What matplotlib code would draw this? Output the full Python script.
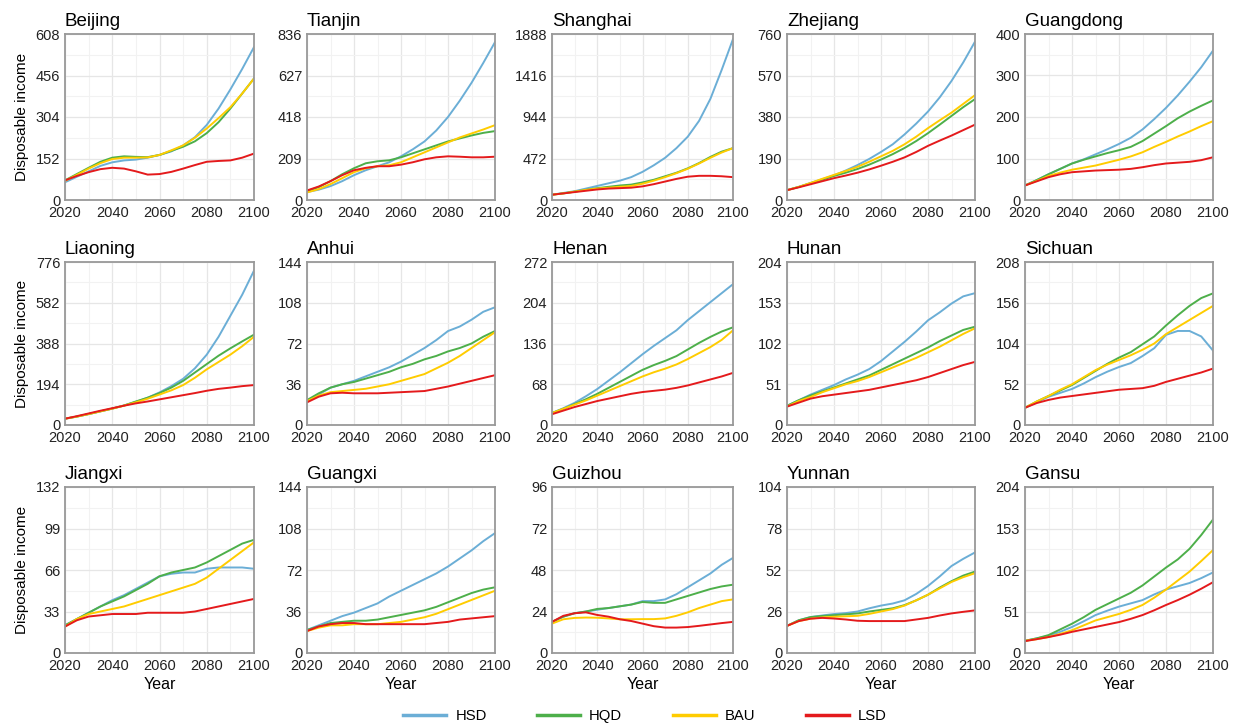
import matplotlib
matplotlib.use("Agg")
import matplotlib.pyplot as plt
import numpy as np

plt.rcParams['font.family'] = ['Liberation Sans', 'DejaVu Sans']

years = list(range(2020, 2101, 5))
scenarios = ["HSD", "HQD", "BAU", "LSD"]
colors = {"HSD": "#6baed6", "HQD": "#4daf4a", "BAU": "#ffcc00", "LSD": "#e41a1c"}

provinces = ["Beijing", "Tianjin", "Shanghai", "Zhejiang", "Guangdong",
             "Liaoning", "Anhui", "Henan", "Hunan", "Sichuan",
             "Jiangxi", "Guangxi", "Guizhou", "Yunnan", "Gansu"]
ymax = [608, 836, 1888, 760, 400, 776, 144, 272, 204, 208, 132, 144, 96, 104, 204]

beijing = {
    "HSD": [65, 85, 105, 125, 138, 145, 148, 155, 165, 178, 200, 230, 275, 335, 405, 480, 560],
    "HQD": [72, 95, 118, 140, 155, 160, 158, 157, 165, 180, 195, 215, 245, 285, 335, 390, 445],
    "BAU": [70, 92, 115, 135, 150, 155, 155, 156, 165, 182, 200, 228, 262, 300, 340, 390, 445],
    "LSD": [72, 88, 102, 113, 118, 115, 105, 93, 95, 103, 115, 128, 140, 143, 145, 155, 170],
}
tianjin = {
    "HSD": [40, 52, 70, 95, 125, 150, 170, 190, 220, 255, 295, 350, 418, 500, 590, 690, 795],
    "HQD": [45, 65, 95, 130, 160, 185, 195, 200, 215, 235, 255, 275, 295, 310, 325, 338, 347],
    "BAU": [38, 55, 80, 110, 140, 160, 170, 175, 190, 215, 240, 265, 290, 315, 335, 355, 377],
    "LSD": [48, 68, 95, 125, 150, 162, 170, 170, 178, 190, 205, 215, 220, 218, 215, 215, 218],
}
shanghai = {
    "HSD": [60, 80, 100, 130, 160, 190, 220, 260, 320, 395, 480, 590, 720, 900, 1150, 1480, 1830],
    "HQD": [60, 75, 95, 115, 135, 150, 165, 175, 200, 230, 270, 310, 360, 420, 490, 550, 590],
    "BAU": [60, 75, 95, 115, 130, 140, 150, 160, 185, 220, 260, 305, 355, 415, 480, 540, 590],
    "LSD": [60, 75, 90, 105, 120, 130, 135, 140, 155, 180, 210, 240, 265, 275, 275, 270, 260],
}
zhejiang = {
    "HSD": [45, 60, 78, 95, 113, 135, 160, 188, 220, 255, 300, 350, 405, 470, 545, 630, 725],
    "HQD": [45, 60, 76, 93, 110, 125, 142, 162, 185, 210, 238, 270, 306, 345, 385, 425, 462],
    "BAU": [45, 60, 78, 97, 115, 133, 152, 175, 200, 225, 255, 290, 329, 365, 400, 440, 480],
    "LSD": [45, 58, 72, 86, 100, 112, 125, 140, 157, 175, 195, 220, 248, 272, 295, 320, 345],
}
guangdong = {
    "HSD": [35, 48, 62, 75, 88, 98, 110, 122, 135, 150, 170, 195, 222, 252, 285, 320, 360],
    "HQD": [35, 48, 62, 75, 88, 97, 105, 113, 120, 128, 142, 160, 178, 197, 213, 227, 240],
    "BAU": [35, 46, 58, 66, 73, 78, 83, 90, 97, 105, 115, 128, 140, 153, 165, 178, 190],
    "LSD": [35, 45, 55, 62, 67, 69, 71, 72, 73, 75, 79, 84, 88, 90, 92, 96, 103],
}
liaoning = {
    "HSD": [30, 40, 52, 65, 78, 93, 110, 130, 155, 185, 220, 270, 335, 420, 520, 620, 735],
    "HQD": [30, 40, 52, 65, 78, 93, 112, 130, 152, 178, 210, 250, 290, 330, 365, 398, 430],
    "BAU": [30, 40, 52, 65, 78, 92, 108, 125, 145, 165, 190, 225, 265, 300, 335, 375, 420],
    "LSD": [30, 42, 55, 68, 80, 92, 103, 112, 122, 132, 142, 152, 163, 172, 178, 185, 190],
}
anhui = {
    "HSD": [21, 27, 33, 36, 39, 43, 47, 51, 56, 62, 68, 75, 83, 87, 93, 100, 104],
    "HQD": [22, 28, 33, 36, 38, 41, 44, 47, 51, 54, 58, 61, 65, 68, 72, 78, 83],
    "BAU": [21, 26, 29, 30, 31, 32, 34, 36, 39, 42, 45, 50, 55, 61, 68, 75, 82],
    "LSD": [20, 25, 28, 28.5, 28, 28, 28, 28.5, 29, 29.5, 30, 32, 34, 36.5, 39, 41.5, 44],
}
henan = {
    "HSD": [20, 28, 37, 48, 60, 74, 88, 103, 118, 132, 145, 158, 175, 190, 205, 220, 235],
    "HQD": [20, 27, 35, 43, 52, 62, 72, 82, 92, 100, 107, 115, 126, 137, 147, 156, 163],
    "BAU": [20, 27, 34, 41, 49, 57, 65, 73, 81, 88, 94, 101, 110, 120, 130, 142, 158],
    "LSD": [18, 24, 30, 35, 40, 44, 48, 52, 55, 57, 59, 62, 66, 71, 76, 81, 87],
}
hunan = {
    "HSD": [24, 31, 38, 44, 50, 57, 63, 70, 80, 92, 104, 117, 131, 141, 152, 161, 165],
    "HQD": [24, 31, 37, 42, 47, 52, 57, 62, 69, 76, 83, 90, 97, 105, 112, 119, 123],
    "BAU": [23, 30, 35, 41, 46, 51, 55, 60, 66, 72, 78, 84, 91, 98, 106, 114, 121],
    "LSD": [23, 28, 33, 36, 38, 40, 42, 44, 47, 50, 53, 56, 60, 65, 70, 75, 79],
}
sichuan = {
    "HSD": [22, 29, 36, 41, 46, 53, 61, 68, 74, 79, 88, 98, 115, 120, 120, 113, 95],
    "HQD": [22, 30, 37, 44, 51, 60, 69, 78, 86, 93, 103, 113, 127, 140, 152, 162, 168],
    "BAU": [22, 30, 37, 45, 52, 61, 70, 77, 83, 89, 96, 104, 116, 125, 134, 143, 152],
    "LSD": [22, 28, 32, 35, 37, 39, 41, 43, 45, 46, 47, 50, 55, 59, 63, 67, 72],
}
jiangxi = {
    "HSD": [22, 27, 32, 37, 42, 46, 51, 56, 61, 63, 64, 64, 67, 68, 68, 68, 67],
    "HQD": [22, 27, 32, 37, 41, 45, 50, 55, 61, 64, 66, 68, 72, 77, 82, 87, 90],
    "BAU": [21, 27, 31, 33, 35, 37, 40, 43, 46, 49, 52, 55, 60, 67, 74, 81, 88],
    "LSD": [21, 26, 29, 30, 31, 31, 31, 32, 32, 32, 32, 33, 35, 37, 39, 41, 43],
}
guangxi = {
    "HSD": [20, 24, 28, 32, 35, 39, 43, 49, 54, 59, 64, 69, 75, 82, 89, 97, 104],
    "HQD": [20, 23, 26, 27, 28, 28, 29, 31, 33, 35, 37, 40, 44, 48, 52, 55, 57],
    "BAU": [19, 22, 24, 24, 25, 25, 25, 26, 27, 29, 31, 34, 38, 42, 46, 50, 54],
    "LSD": [19, 23, 25, 26, 26, 25, 25, 25, 25, 25, 25, 26, 27, 29, 30, 31, 32],
}
guizhou = {
    "HSD": [18, 21, 23, 24, 25, 26, 27, 28, 30, 30, 31, 34, 38, 42, 46, 51, 55],
    "HQD": [18, 21, 23, 24, 25.5, 26, 27, 28, 29.5, 29, 29, 31, 33, 35, 37, 38.5, 39.5],
    "BAU": [17, 19.5, 20.3, 20.5, 20.4, 20, 19.5, 19.5, 19.6, 19.6, 20, 21.5, 23.5, 26, 28, 30, 31],
    "LSD": [18, 21.5, 23, 23.5, 22, 21, 19.5, 18.5, 17, 15.5, 14.7, 14.7, 15, 15.7, 16.5, 17.3, 18],
}
yunnan = {
    "HSD": [17, 20.5, 22.5, 23.5, 24.4, 25, 26, 28, 29.7, 31, 33, 37, 42, 48, 54.5, 59, 63],
    "HQD": [17, 20.5, 22.5, 23.2, 23.7, 24.2, 24.8, 26, 27, 28, 30, 33, 36.5, 41, 45, 48.5, 51],
    "BAU": [17, 20, 21.5, 22.3, 22.7, 23, 23.3, 24.5, 26, 27.5, 29.7, 33, 36.5, 40.5, 44.5, 47.5, 50],
    "LSD": [17, 20, 21.5, 22, 21.6, 21, 20.2, 20, 20, 20, 20, 21, 22, 23.5, 24.8, 25.8, 26.7],
}
gansu = {
    "HSD": [15, 18, 21, 26, 32, 39, 46.6, 52, 57, 61, 65, 72, 78, 82, 86, 92, 99],
    "HQD": [15, 18, 22, 29, 36, 44, 53, 60, 67, 74, 83, 94, 105, 115, 128, 145, 164],
    "BAU": [15, 17, 19.6, 23.5, 28, 34, 40, 44, 48, 53, 59, 68, 78, 89, 100, 113, 126.5],
    "LSD": [14.6, 17, 19.6, 22.5, 26, 29, 32, 35, 38, 42, 46.6, 52.5, 59, 65, 71.6, 79, 87],
}

data = [beijing, tianjin, shanghai, zhejiang, guangdong,
        liaoning, anhui, henan, hunan, sichuan,
        jiangxi, guangxi, guizhou, yunnan, gansu]

W, H = 1245, 727
fig = plt.figure(figsize=(W / 100, H / 100), dpi=100)

col_lr = [(65, 254), (307, 495), (552, 733), (787, 975), (1025, 1213)]
row_tb = [(34, 200), (262, 425), (487, 653)]

handles = []
for i, (name, d, ym) in enumerate(zip(provinces, data, ymax)):
    r, c = divmod(i, 5)
    l, rr = col_lr[c]
    t, b = row_tb[r]
    ax = fig.add_axes([l / W, 1 - b / H, (rr - l) / W, (b - t) / H])
    for s in scenarios:
        ln, = ax.plot(years, d[s], color=colors[s], lw=1.4, label=s)
        if i == 0:
            handles.append(ln)
    ax.set_xlim(2020, 2100)
    ax.set_ylim(0, ym)
    ax.set_xticks([2020, 2040, 2060, 2080, 2100])
    ax.set_xticks([2030, 2050, 2070, 2090], minor=True)
    yt = [ym * k / 4 for k in range(5)]
    ax.set_yticks(yt)
    ax.set_yticklabels([f"{int(round(v))}" for v in yt])
    ax.set_yticks([ym * (k + 0.5) / 4 for k in range(4)], minor=True)
    ax.grid(which="major", color="#e6e6e6", lw=0.9)
    ax.grid(which="minor", color="#f2f2f2", lw=0.8)
    ax.set_axisbelow(True)
    for sp in ax.spines.values():
        sp.set_color("#999999")
        sp.set_linewidth(1.3)
    ax.tick_params(which="both", length=0, labelsize=10.5, colors="#222222")
    ax.tick_params(axis="x", pad=4.5)
    ax.tick_params(axis="y", pad=3.5)
    ax.set_title(name, loc="left", fontsize=13.5, pad=6)
    if c == 0:
        ax.set_ylabel("Disposable income", fontsize=11, labelpad=5)
    if r == 2:
        ax.set_xlabel("Year", fontsize=11.5, labelpad=3)

leg = fig.legend(handles, scenarios, loc="center", bbox_to_anchor=(645 / W, 1 - 716 / H),
                 ncol=4, frameon=False, fontsize=10.7, handlelength=2.9,
                 columnspacing=3.4, handletextpad=0.6)
for lh in leg.get_lines():
    lh.set_linewidth(2.5)
try:
    leg._legend_handle_box.align = "top"
except Exception:
    pass

fig.savefig("out.png", dpi=100)
